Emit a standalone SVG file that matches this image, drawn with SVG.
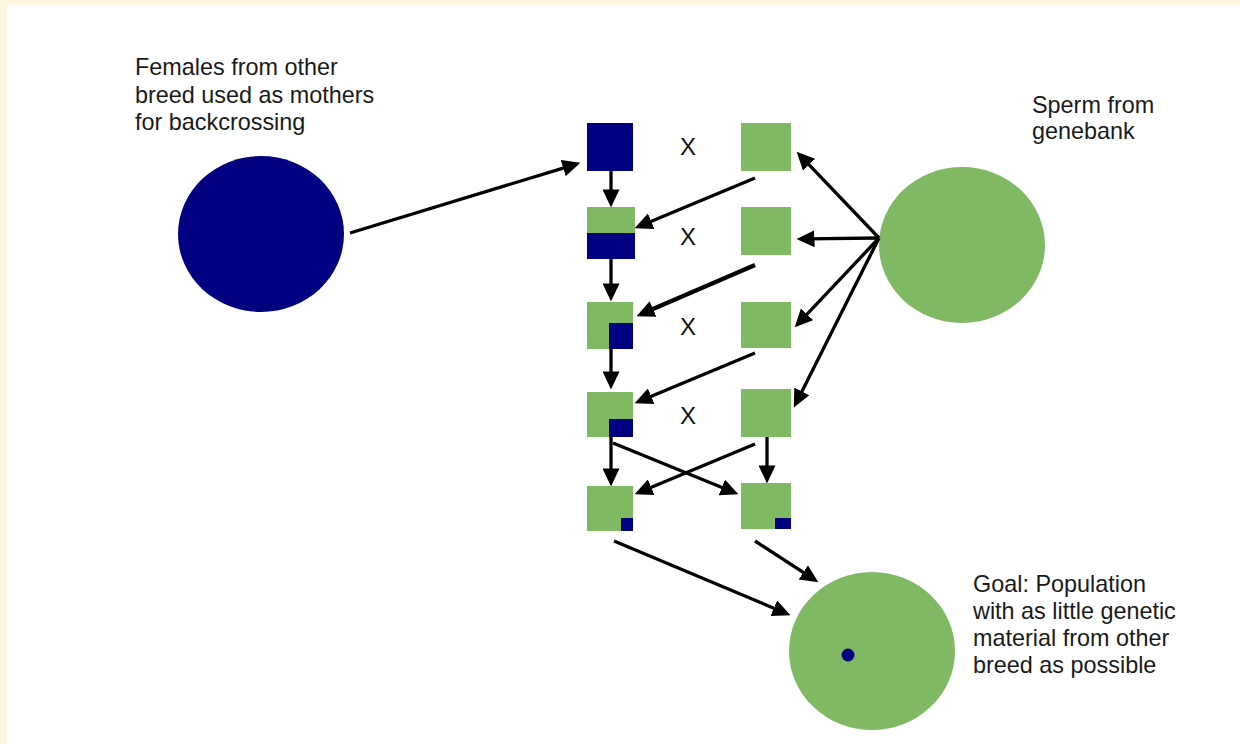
<svg xmlns="http://www.w3.org/2000/svg" width="1240" height="744" viewBox="0 0 1240 744">
<style>
.navy{fill:#000080}
.green{fill:#80b964}
.lbl{font-family:"Liberation Sans",Arial,sans-serif;font-size:23.4px;fill:#1a1a1a}
.x{font-family:"Liberation Sans",Arial,sans-serif;font-size:24px;fill:#111}
.conn line{stroke:#000;stroke-width:3.3;marker-end:url(#ah)}
</style>
<defs>
<marker id="ah" markerUnits="userSpaceOnUse" markerWidth="18" markerHeight="17" refX="9" refY="8" orient="auto" viewBox="0 0 17 16">
<path d="M0,0 L17,8 L0,16 z" fill="#000"/>
</marker>
</defs>
<rect x="0" y="0" width="1240" height="744" fill="#fef5df"/>
<rect x="7" y="5" width="1233" height="739" fill="#ffffff"/>

<g id="females-label"><text class="lbl" x="135" y="75"><tspan x="135" y="75">Females from other</tspan><tspan x="135" y="102.5">breed used as mothers</tspan><tspan x="135" y="130">for backcrossing</tspan></text></g>
<g id="sperm-label"><text class="lbl" x="1032" y="113"><tspan x="1032" y="113">Sperm from</tspan><tspan x="1032" y="139">genebank</tspan></text></g>
<g id="goal-label"><text class="lbl" x="973" y="592"><tspan x="973" y="592">Goal: Population</tspan><tspan x="973" y="619">with as little genetic</tspan><tspan x="973" y="646">material from other</tspan><tspan x="973" y="673">breed as possible</tspan></text></g>

<g id="females"><ellipse class="navy" cx="261" cy="234" rx="83" ry="78"/></g>
<g id="genebank"><ellipse class="green" cx="962" cy="245" rx="83" ry="78"/></g>
<g id="goal"><ellipse class="green" cx="872" cy="651" rx="83" ry="79"/><circle class="navy" cx="848" cy="655" r="6.5"/></g>

<g id="f0"><rect class="navy" x="587" y="123" width="46" height="48"/></g>
<g id="m1"><rect class="green" x="741" y="123" width="50" height="48"/></g>
<g id="f1"><rect class="green" x="587" y="207" width="48" height="26"/><rect class="navy" x="587" y="233" width="48" height="26"/></g>
<g id="m2"><rect class="green" x="741" y="207" width="50" height="48"/></g>
<g id="f2"><rect class="green" x="587" y="302" width="46" height="47"/><rect class="navy" x="609" y="323" width="24" height="26"/></g>
<g id="m3"><rect class="green" x="741" y="302" width="50" height="46"/></g>
<g id="f3"><rect class="green" x="587" y="392" width="46" height="45"/><rect class="navy" x="609" y="419" width="24" height="18"/></g>
<g id="m4"><rect class="green" x="741" y="389" width="50" height="48"/></g>
<g id="f4a"><rect class="green" x="587" y="486" width="46" height="45"/><rect class="navy" x="621" y="518" width="12" height="13"/></g>
<g id="f4b"><rect class="green" x="741" y="483" width="50" height="46"/><rect class="navy" x="775" y="518" width="16" height="11"/></g>

<g id="cross-marks">
<text class="x" x="688" y="155" text-anchor="middle">X</text>
<text class="x" x="688" y="245" text-anchor="middle">X</text>
<text class="x" x="688" y="335" text-anchor="middle">X</text>
<text class="x" x="688" y="424" text-anchor="middle">X</text>
</g>

<g id="connectors" class="conn">
<line x1="350" y1="233" x2="572.3" y2="165.3"/>
<line x1="611" y1="171" x2="611" y2="199"/>
<line x1="611" y1="259" x2="611" y2="293"/>
<line x1="611" y1="349" x2="611" y2="381"/>
<line x1="611" y1="437" x2="611" y2="478"/>
<line x1="767" y1="437" x2="767" y2="475"/>
<line x1="613" y1="443" x2="730.6" y2="491"/>
<line x1="755" y1="444" x2="642.4" y2="490.9"/>
<line x1="755" y1="178" x2="642.4" y2="224.9"/>
<line x1="755" y1="265" x2="644.3" y2="312.8" style="stroke-width:4.2"/>
<line x1="755" y1="353" x2="642.4" y2="399.9"/>
<line x1="879" y1="238" x2="802.5" y2="157.8"/>
<line x1="879" y1="238" x2="805" y2="238.9"/>
<line x1="879" y1="238" x2="800.5" y2="321.2"/>
<line x1="879" y1="238" x2="797.6" y2="399.9"/>
<line x1="614" y1="541" x2="782.6" y2="611.9"/>
<line x1="755" y1="541" x2="811.3" y2="577.6"/>
</g>
</svg>
